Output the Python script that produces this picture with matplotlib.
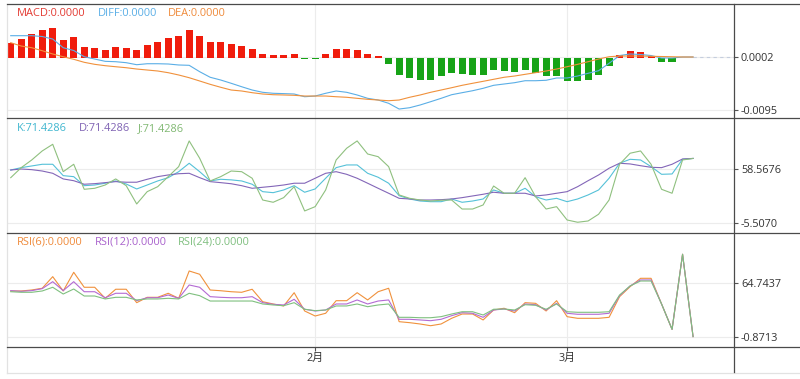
import matplotlib
matplotlib.use("Agg")
import matplotlib.pyplot as plt
from matplotlib.lines import Line2D
import numpy as np

plt.rcParams['font.family'] = ['Open Sans', 'Noto Sans CJK SC', 'DejaVu Sans']

# ---- data (MACD values in units of 1e-4) ----
macd = [27.5, 35.5, 43.9, 52.0, 54.9, 33.7, 37.9, 19.6, 18.3, 14.1, 19.6, 18.3, 15.4, 23.2,
        29.3, 36.6, 39.7, 50.7, 39.7, 29.3, 28.7, 25.6, 22.7, 17.2, 7.3, 4.9, 4.9, 7.3,
        -1.8, -1.8, 8.1, 17.2, 16.5, 15.4, 7.3, 4.4, -10.2, -31.7, -36.6, -40.8, -39.5,
        -32.2, -27.5, -29.3, -31.7, -31.7, -22.5, -24.3, -25.6, -22.5, -27.5, -33.5, -32.2,
        -41.4, -41.4, -39.5, -30.4, -15.2, 6.2, 12.3, 10.4, 4.4, -7.3, -7.3, 0.0, 0.0]
diff = [41.0, 41.0, 41.0, 39.5, 34.9, 19.0, 13.9, 2.5, -1.7, -5.9, -6.6, -8.4, -12.1, -10.3,
        -10.3, -10.8, -12.6, -13.2, -24.9, -35.1, -40.1, -46.1, -52.4, -58.4, -62.6, -64.4,
        -65.0, -65.7, -70.7, -69.4, -64.4, -60.2, -62.6, -67.5, -73.6, -76.7, -82.7, -93.2,
        -90.8, -85.8, -79.8, -73.6, -67.0, -63.3, -59.7, -55.3, -49.8, -47.4, -45.0, -41.4,
        -41.4, -40.6, -36.4, -36.4, -32.8, -27.8, -23.1, -9.5, 4.7, 7.5, 6.6, 4.7, 0.2, 0.2,
        2.0, 2.0]
dea = [28.2, 22.1, 19.0, 13.5, 7.5, 2.5, -2.2, -7.7, -11.4, -13.9, -15.8, -17.6, -20.0, -21.8,
       -23.6, -26.7, -30.9, -35.9, -41.9, -48.0, -53.4, -58.4, -60.2, -63.3, -65.7, -67.0,
       -67.5, -68.1, -69.4, -69.4, -69.4, -70.7, -71.7, -73.6, -75.4, -76.7, -78.0, -76.7,
       -71.7, -67.5, -62.6, -58.4, -54.2, -49.8, -46.1, -42.5, -38.8, -35.1, -32.8, -29.7,
       -26.7, -23.6, -20.0, -15.8, -11.4, -6.6, -1.7, 2.5, 3.8, 3.8, 3.8, 3.3, 2.9, 2.5,
       2.0, 2.0]

k = [57.7, 60.5, 62.5, 64.5, 64.5, 51.0, 49.8, 39.1, 39.9, 42.0, 44.7, 41.1, 35.2, 39.9,
     44.7, 48.6, 55.7, 65.7, 55.7, 44.7, 46.7, 46.0, 44.7, 40.8, 32.0, 30.8, 34.0, 39.1,
     31.3, 35.2, 47.9, 60.5, 63.7, 63.7, 53.8, 49.1, 42.0, 27.2, 23.3, 20.9, 20.1, 20.1,
     23.3, 19.4, 20.9, 23.3, 34.0, 30.1, 30.1, 36.0, 26.0, 22.1, 24.1, 20.1, 23.3, 28.1,
     34.0, 47.9, 65.7, 70.4, 69.6, 61.7, 52.6, 53.0, 70.4, 71.4286]
d = [57.7, 58.9, 58.1, 56.5, 53.8, 47.1, 45.0, 40.8, 41.5, 42.7, 43.9, 43.2, 43.2, 46.7,
     49.8, 51.8, 53.3, 53.8, 48.6, 43.9, 42.7, 41.4, 39.1, 36.0, 37.2, 38.4, 39.9, 42.0,
     42.0, 47.9, 53.8, 55.7, 52.6, 47.9, 42.0, 36.0, 30.1, 24.1, 23.3, 22.1, 22.1, 22.5,
     23.3, 24.9, 26.9, 28.9, 31.3, 30.1, 30.1, 30.1, 26.9, 28.1, 30.1, 32.0, 37.9, 45.0,
     51.8, 59.8, 65.7, 64.9, 62.8, 60.9, 60.5, 64.5, 70.8, 71.4286]
j = [48.6, 60.5, 69.6, 80.3, 88.2, 55.7, 64.5, 34.8, 36.0, 39.9, 47.1, 39.1, 17.4, 32.0,
     37.9, 49.8, 61.7, 92.2, 71.6, 44.7, 49.8, 56.5, 55.7, 47.9, 22.1, 19.4, 24.9, 37.9,
     9.1, 14.2, 34.0, 69.6, 83.5, 92.2, 76.7, 73.5, 61.7, 28.1, 24.1, 22.1, 20.9, 21.8,
     22.1, 11.4, 11.4, 16.2, 38.7, 30.1, 30.1, 48.6, 26.0, 11.4, 14.2, -1.6, -4.3, -2.8,
     5.2, 22.1, 64.5, 77.6, 80.3, 64.5, 34.8, 30.1, 69.6, 71.4286]

rsi6 = [55.4, 55.4, 56.6, 58.7, 72.8, 55.4, 78.1, 59.9, 59.9, 46.5, 57.5, 57.5, 41.2, 47.7,
        47.7, 52.6, 46.5, 79.7, 75.7, 56.6, 55.7, 54.5, 53.8, 57.5, 42.4, 39.6, 37.2, 53.3,
        31.1, 25.0, 28.3, 43.6, 43.6, 53.3, 44.5, 54.5, 58.7, 18.1, 16.9, 15.3, 13.2, 15.3,
        22.2, 27.4, 27.4, 20.2, 32.3, 34.4, 29.0, 41.2, 40.4, 31.1, 43.6, 24.2, 22.2, 22.2,
        22.2, 23.4, 48.5, 60.6, 70.8, 70.8, 39.6, 8.8, 100.0, 0.0]
rsi12 = [55.8, 55.0, 55.8, 58.2, 66.7, 55.8, 66.7, 54.5, 54.5, 47.2, 52.6, 52.6, 43.6, 47.2,
         47.2, 50.5, 46.5, 62.7, 59.9, 48.5, 47.7, 47.2, 47.2, 48.5, 41.2, 39.2, 38.4, 45.3,
         33.2, 31.1, 32.3, 39.6, 39.6, 44.5, 39.6, 43.2, 44.5, 21.0, 21.0, 20.2, 19.3, 21.0,
         25.4, 29.0, 28.3, 23.4, 32.3, 33.5, 31.1, 39.6, 38.7, 32.3, 40.4, 28.3, 27.1, 27.1,
         27.1, 28.3, 49.7, 61.5, 68.8, 68.8, 39.6, 8.8, 100.0, 0.0]
rsi24 = [54.5, 53.8, 53.8, 55.4, 59.9, 51.7, 57.8, 49.3, 49.3, 45.7, 47.7, 47.7, 44.5, 45.7,
         45.7, 46.5, 45.7, 52.6, 49.7, 43.2, 43.2, 43.2, 43.2, 43.2, 39.6, 38.4, 37.5, 41.2,
         33.2, 31.5, 32.3, 37.2, 37.2, 39.6, 36.3, 38.4, 39.6, 23.4, 23.4, 22.9, 22.9, 24.2,
         27.4, 30.2, 30.2, 26.2, 33.2, 33.5, 32.3, 38.7, 38.0, 33.2, 39.6, 30.2, 29.5, 29.5,
         29.5, 30.2, 50.5, 61.5, 67.5, 67.5, 39.6, 8.8, 100.0, 0.0]

month_pos = [29, 53]
month_labels = ['2月', '3月']

macd_ticks = [0.0002, -0.0095]
kdj_ticks = [58.5676, -5.5070]
rsi_ticks = [64.7437, -0.8713]

macd = np.array(macd) * 1e-4
diff = np.array(diff) * 1e-4
dea = np.array(dea) * 1e-4
x = np.arange(len(macd))

W, H = 800, 379
fig = plt.figure(figsize=(8, 3.79), dpi=100)

def axes_px(top, bottom):
    return fig.add_axes([8 / W, 1 - bottom / H, (734 - 8) / W, (bottom - top) / H])

ax1 = axes_px(4, 117.5)
ax2 = axes_px(117.5, 232.7)
ax3 = axes_px(232.7, 346.5)

grid_c = '#ececec'
for ax in (ax1, ax2, ax3):
    ax.set_xlim(-0.26, 68.9)
    for s in ax.spines.values():
        s.set_visible(False)
    ax.yaxis.tick_right()
    ax.tick_params(axis='y', length=3, width=0.8, color='#555555', pad=2,
                   labelsize=7.8, labelcolor='#333333')
    ax.set_xticks(month_pos)
    ax.grid(True, color=grid_c, lw=0.8)
    ax.set_axisbelow(True)
    ax.patch.set_alpha(0)

for ax in (ax1, ax2):
    ax.tick_params(axis='x', length=0, labelbottom=False)
ax3.set_xticklabels(month_labels)
ax3.tick_params(axis='x', length=3, width=0.8, color='#555555', pad=1.5,
                labelsize=7.8, labelcolor='#333333')

lw = 0.8

# MACD panel
red, green = '#f01c0c', '#17a317'
cols = [red if v >= 0 else green for v in macd]
ax1.bar(x, macd, width=0.68, color=cols, zorder=2)
ax1.plot(x, diff, color='#5aaee6', lw=lw, zorder=3)
ax1.plot(x, dea, color='#f0913c', lw=lw, zorder=3)
ax1.plot([x[-1], 68.9], [diff[-1], diff[-1]], color='#c5cede', lw=0.8,
         ls=(0, (3, 3)), zorder=1)
ax1.set_ylim(-108.7e-4, 99e-4)
ax1.set_yticks(macd_ticks)
ax1.set_yticklabels(['%.4f' % t for t in macd_ticks])

# KDJ panel
ax2.plot(x, k, color='#55c1d8', lw=lw)
ax2.plot(x, d, color='#8366b8', lw=lw)
ax2.plot(x, j, color='#8fc07f', lw=lw)
ax2.set_ylim(-16.7, 120.0)
ax2.set_yticks(kdj_ticks)
ax2.set_yticklabels(['%.4f' % t for t in kdj_ticks])

# RSI panel
ax3.plot(x, rsi6, color='#f0913c', lw=lw)
ax3.plot(x, rsi12, color='#b36ad3', lw=lw)
ax3.plot(x, rsi24, color='#7fc07f', lw=lw)
ax3.set_ylim(-12.05, 126.2)
ax3.set_yticks(rsi_ticks)
ax3.set_yticklabels(['%.4f' % t for t in rsi_ticks])

# frame lines
dark, light = '#4a4a4a', '#e2e2e2'
def hline(py, x0, x1, c):
    fig.add_artist(Line2D([x0 / W, x1 / W], [1 - py / H] * 2, color=c, lw=0.9))
def vline(px, y0, y1, c):
    fig.add_artist(Line2D([px / W] * 2, [1 - y0 / H, 1 - y1 / H], color=c, lw=0.9))

vline(7, 4, 373, light)
hline(373, 7, 800, light)
for py in (4, 117.5, 232.7, 346.5):
    hline(py, 7, 800, dark)
vline(734, 4, 372, dark)

# legends
def label(px, py, txt, c):
    fig.text(px / W, 1 - py / H, txt, color=c, fontsize=7.9, ha='left', va='center')

label(17, 14, 'MACD:0.0000', '#e33b33')
label(97.5, 14, 'DIFF:0.0000', '#5aaee6')
label(168, 14, 'DEA:0.0000', '#ef8a3a')
label(16.5, 128.3, 'K:71.4286', '#3fb6cf')
label(79, 128.3, 'D:71.4286', '#7f62b3')
label(138, 128.3, 'J:71.4286', '#80b872')
label(16.5, 242.3, 'RSI(6):0.0000', '#ef8a3a')
label(95, 242.3, 'RSI(12):0.0000', '#a962cc')
label(178, 242.3, 'RSI(24):0.0000', '#7fbf7f')

fig.savefig('out.png', dpi=100)
